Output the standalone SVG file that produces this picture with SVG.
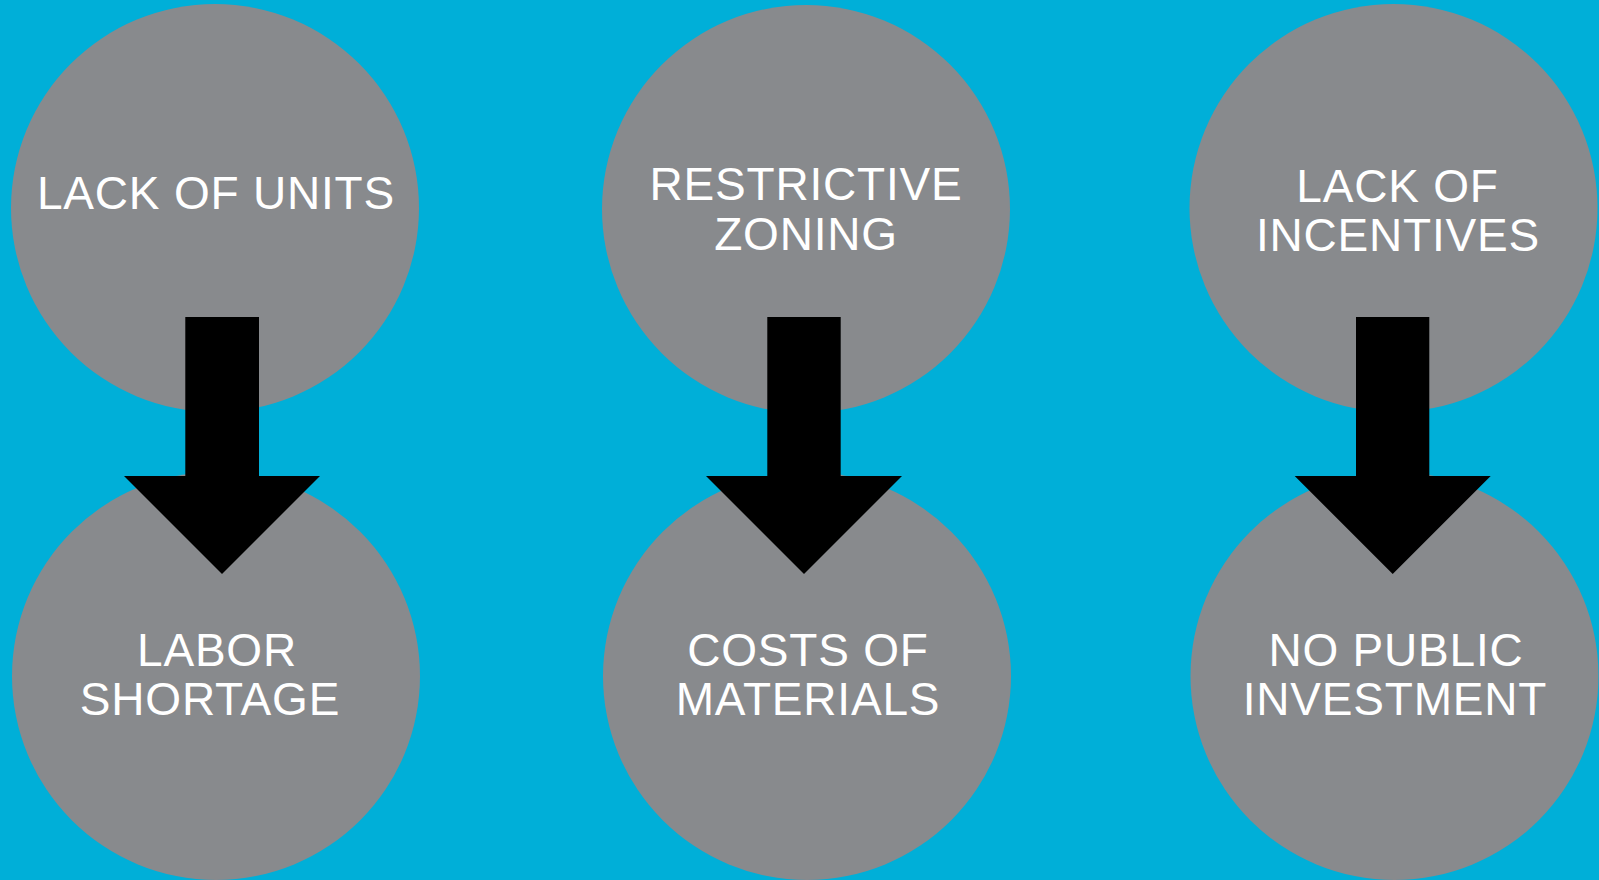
<svg xmlns="http://www.w3.org/2000/svg" width="1599" height="880" viewBox="0 0 1599 880">
<style>
.c{fill:#888A8D}
.t{fill:#FFFFFF;font-family:"Liberation Sans",Arial,Helvetica,sans-serif;font-size:46px;letter-spacing:0.8px;text-anchor:middle}
.a{fill:#000000}
</style>
<rect x="0" y="0" width="1599" height="880" fill="#00AFD8"/>
<g id="node-lack-of-units"><circle class="c" cx="215" cy="208" r="204"/><text class="t" x="216" y="209">LACK OF UNITS</text></g>
<g id="node-restrictive-zoning"><circle class="c" cx="806" cy="209" r="204"/><text class="t" x="806" y="200">RESTRICTIVE</text><text class="t" x="806" y="250">ZONING</text></g>
<g id="node-lack-of-incentives"><circle class="c" cx="1393.5" cy="208" r="204"/><text class="t" x="1397.5" y="202">LACK OF</text><text class="t" x="1398" y="251">INCENTIVES</text></g>
<g id="node-labor-shortage"><circle class="c" cx="216" cy="676" r="204"/><text class="t" x="217" y="666">LABOR</text><text class="t" x="210" y="715">SHORTAGE</text></g>
<g id="node-costs-of-materials"><circle class="c" cx="807" cy="676" r="204"/><text class="t" x="808" y="666">COSTS OF</text><text class="t" x="808" y="715">MATERIALS</text></g>
<g id="node-no-public-investment"><circle class="c" cx="1394.5" cy="676" r="204"/><text class="t" x="1396" y="666">NO PUBLIC</text><text class="t" x="1395" y="715">INVESTMENT</text></g>
<g id="connectors">
<path class="a" d="M185.3 317 H259 V476 H320 L222 574 L124 476 H185.3 Z"/>
<path class="a" d="M767.3 317 H840.7 V476 H902 L804 574 L706 476 H767.3 Z"/>
<path class="a" d="M1356 317 H1429.3 V476 H1490.7 L1392.7 574 L1294.7 476 H1356 Z"/>
</g>
</svg>
